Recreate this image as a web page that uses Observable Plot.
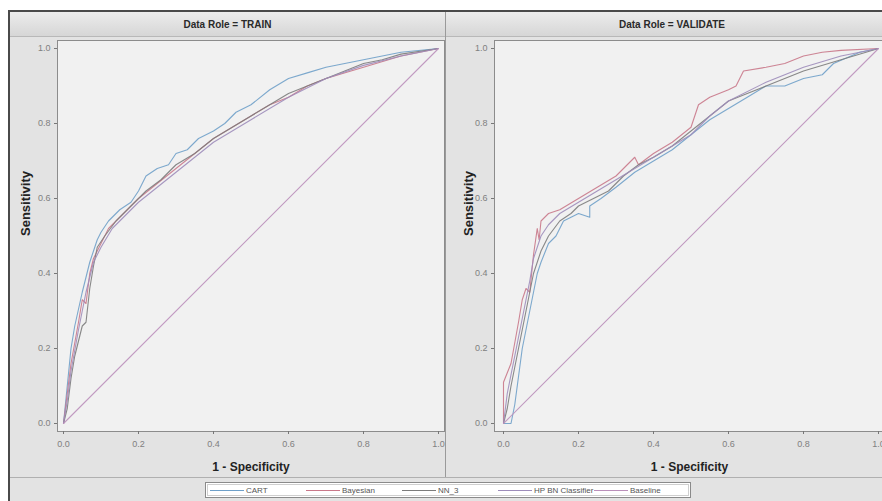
<!DOCTYPE html>
<html>
<head>
<meta charset="utf-8">
<script src="https://cdn.jsdelivr.net/npm/d3@7"></script>
<script src="https://cdn.jsdelivr.net/npm/@observablehq/plot@0.6"></script>
<style>
  html, body { margin: 0; padding: 0; background: #fff; overflow: hidden; }
  #page { position: relative; width: 882px; height: 501px; overflow: hidden; font-family: "Liberation Sans", Arial, sans-serif; }
  .abs { position: absolute; }
  .hdr { position: absolute; top: 12px; height: 24px; background: linear-gradient(#ececec, #d6d6d6); border-bottom: 1px solid #b8b8b8;
         display: flex; align-items: center; justify-content: center; font-weight: bold; font-size: 10px; color: #2a2a2a; }
  #left svg, #right svg { max-width: none !important; }
  #legend { position: absolute; left: 205px; top: 482px; width: 480px; height: 14px; background: #fff;
            border: 1px solid #8a8a8a; outline: 1px solid #cfcfcf; outline-offset: -3px; display: flex; align-items: center; padding-left: 4px; box-sizing: content-box; }
  .item { width: 97.5px; display: flex; align-items: center; font-size: 8px; color: #555; white-space: nowrap; }
  .item .sw { width: 34px; height: 0; border-top: 1px solid; margin-right: 2px; }
</style>
</head>
<body>
<div id="page">
  <div class="abs" style="left:8px;top:10px;width:900px;height:500px;border:2px solid #4a4a4a;background:#e3e3e3;"></div>
  <div class="hdr" style="left:10px;width:435px;">Data Role = TRAIN</div>
  <div class="hdr" style="left:446px;width:452px;">Data Role = VALIDATE</div>
  <div class="abs" style="left:445px;top:12px;width:1px;height:465px;background:#9a9a9a;"></div>
  <div class="abs" style="left:10px;top:477px;width:890px;height:1px;background:#b0b0b0;"></div>
  <div id="left" class="abs" style="left:10px;top:37px;width:436px;height:433px;"></div>
  <div id="right" class="abs" style="left:446px;top:37px;width:440px;height:433px;"></div>
  <div id="legend"></div>
</div>
<script>
// ---------- data ----------
const models = ["CART", "Bayesian", "NN_3", "HP BN Classifier", "Baseline"];
const colors = ["#6fa0c9", "#c9788a", "#7c7c7c", "#9d8cba", "#bb90bb"];
const ticks = [0, 0.2, 0.4, 0.6, 0.8, 1.0];

// TRAIN: [1 - specificity, sensitivity]
const trainCART = [[0,0],[0.01,0.1],[0.02,0.2],[0.03,0.26],[0.05,0.35],[0.07,0.43],[0.09,0.49],[0.1,0.51],[0.12,0.54],[0.15,0.57],[0.18,0.59],[0.2,0.62],[0.22,0.66],[0.25,0.68],[0.28,0.69],[0.3,0.72],[0.33,0.73],[0.36,0.76],[0.4,0.78],[0.43,0.8],[0.46,0.83],[0.5,0.85],[0.55,0.89],[0.6,0.92],[0.65,0.935],[0.7,0.95],[0.8,0.97],[0.9,0.99],[1,1]];
const trainBayes = [[0,0],[0.01,0.08],[0.02,0.16],[0.04,0.27],[0.05,0.33],[0.06,0.32],[0.07,0.4],[0.08,0.44],[0.1,0.48],[0.12,0.52],[0.15,0.55],[0.2,0.6],[0.25,0.64],[0.3,0.68],[0.35,0.72],[0.4,0.76],[0.45,0.79],[0.5,0.82],[0.55,0.85],[0.6,0.87],[0.65,0.9],[0.7,0.92],[0.8,0.95],[0.9,0.98],[1,1]];
const trainNN = [[0,0],[0.01,0.04],[0.02,0.12],[0.03,0.18],[0.04,0.22],[0.05,0.26],[0.06,0.27],[0.07,0.36],[0.08,0.42],[0.09,0.47],[0.11,0.5],[0.14,0.54],[0.18,0.58],[0.22,0.62],[0.26,0.65],[0.3,0.69],[0.35,0.72],[0.4,0.76],[0.45,0.79],[0.5,0.82],[0.55,0.85],[0.6,0.88],[0.65,0.9],[0.7,0.92],[0.75,0.94],[0.8,0.96],[0.85,0.97],[0.9,0.985],[1,1]];
const trainHPBN = [[0,0],[0.01,0.06],[0.02,0.14],[0.04,0.25],[0.06,0.35],[0.08,0.43],[0.1,0.47],[0.13,0.52],[0.17,0.56],[0.2,0.59],[0.25,0.63],[0.3,0.67],[0.35,0.71],[0.4,0.75],[0.5,0.81],[0.6,0.87],[0.7,0.92],[0.8,0.955],[0.9,0.98],[1,1]];

// VALIDATE
const validCART = [[0,0],[0.02,0],[0.03,0.05],[0.05,0.2],[0.07,0.3],[0.09,0.4],[0.1,0.43],[0.12,0.48],[0.14,0.5],[0.16,0.54],[0.2,0.56],[0.23,0.55],[0.23,0.58],[0.26,0.6],[0.3,0.63],[0.35,0.67],[0.4,0.7],[0.45,0.73],[0.5,0.77],[0.55,0.81],[0.6,0.84],[0.65,0.87],[0.7,0.9],[0.75,0.9],[0.8,0.92],[0.85,0.93],[0.88,0.96],[0.95,0.99],[1,1]];
const validBayes = [[0,0],[0,0.11],[0.02,0.16],[0.04,0.27],[0.05,0.33],[0.06,0.36],[0.07,0.35],[0.08,0.45],[0.09,0.52],[0.095,0.49],[0.1,0.54],[0.12,0.56],[0.15,0.57],[0.2,0.6],[0.25,0.63],[0.3,0.66],[0.35,0.71],[0.36,0.69],[0.4,0.72],[0.45,0.75],[0.5,0.79],[0.52,0.85],[0.55,0.87],[0.6,0.89],[0.62,0.9],[0.64,0.94],[0.7,0.95],[0.75,0.96],[0.8,0.98],[0.85,0.99],[0.9,0.995],[1,1]];
const validNN = [[0,0],[0.01,0.04],[0.02,0.1],[0.04,0.2],[0.06,0.3],[0.08,0.4],[0.1,0.46],[0.12,0.5],[0.15,0.54],[0.18,0.56],[0.2,0.58],[0.24,0.6],[0.28,0.62],[0.32,0.66],[0.36,0.69],[0.4,0.71],[0.45,0.74],[0.5,0.78],[0.55,0.82],[0.6,0.86],[0.65,0.88],[0.7,0.9],[0.8,0.94],[0.9,0.97],[1,1]];
const validHPBN = [[0,0],[0.01,0.08],[0.03,0.18],[0.05,0.28],[0.07,0.38],[0.08,0.44],[0.1,0.5],[0.12,0.53],[0.15,0.56],[0.2,0.59],[0.25,0.62],[0.3,0.65],[0.35,0.68],[0.4,0.71],[0.5,0.77],[0.55,0.82],[0.6,0.86],[0.7,0.91],[0.8,0.95],[0.9,0.98],[1,1]];

const baseline = [[0,0],[1,1]];

// ---------- build ----------
function rows(series) {
  const out = [];
  series.forEach((pts, i) => pts.forEach(([x, y], j) => out.push({model: models[i], x, y, order: j})));
  return out;
}
const trainRows = rows([trainCART, trainBayes, trainNN, trainHPBN, baseline]);
const validRows = rows([validCART, validBayes, validNN, validHPBN, baseline]);

function panel(data, width, marginLeft, insetL, insetR, ylabDx) {
  return Plot.plot({
    width, height: 433,
    marginLeft, marginRight: 2, marginTop: 3, marginBottom: 39,
    style: {background: "transparent", fontFamily: "Liberation Sans, Arial, sans-serif", fontSize: "9px", color: "#808080", overflow: "visible"},
    x: {domain: [0, 1], insetLeft: insetL, insetRight: insetR},
    y: {domain: [0, 1], insetTop: 8, insetBottom: 8},
    color: {domain: models, range: colors},
    marks: [
      Plot.frame({fill: "#f1f1f1", stroke: "#8c8c8c"}),
      Plot.line(data, {x: "x", y: "y", z: "model", stroke: "model", strokeWidth: 1.1, strokeOpacity: 0.9}),
      Plot.axisX({ticks, tickFormat: d3.format(".1f"), tickSize: 3, tickPadding: 6, label: null, stroke: "#777"}),
      Plot.axisY({ticks, tickFormat: d3.format(".1f"), tickSize: 3, tickPadding: 4, label: null, stroke: "#777"}),
      Plot.text(["1 - Specificity"], {frameAnchor: "bottom", lineAnchor: "middle", dy: 36, fontWeight: "bold", fontSize: 12, fill: "#222"}),
      Plot.text(["Sensitivity"], {frameAnchor: "left", dx: ylabDx, rotate: -90, fontWeight: "bold", fontSize: 13, fill: "#222"})
    ]
  });
}

document.getElementById("left").append(panel(trainRows, 436, 47, 6, 6, -32));
document.getElementById("right").append(panel(validRows, 440, 48, 9, 6, -26));

const leg = document.getElementById("legend");
models.forEach((m, i) => {
  const it = document.createElement("div");
  it.className = "item";
  const sw = document.createElement("span");
  sw.className = "sw";
  sw.style.borderColor = colors[i];
  const tx = document.createElement("span");
  tx.textContent = m;
  it.append(sw, tx);
  leg.append(it);
});
</script>
</body>
</html>
